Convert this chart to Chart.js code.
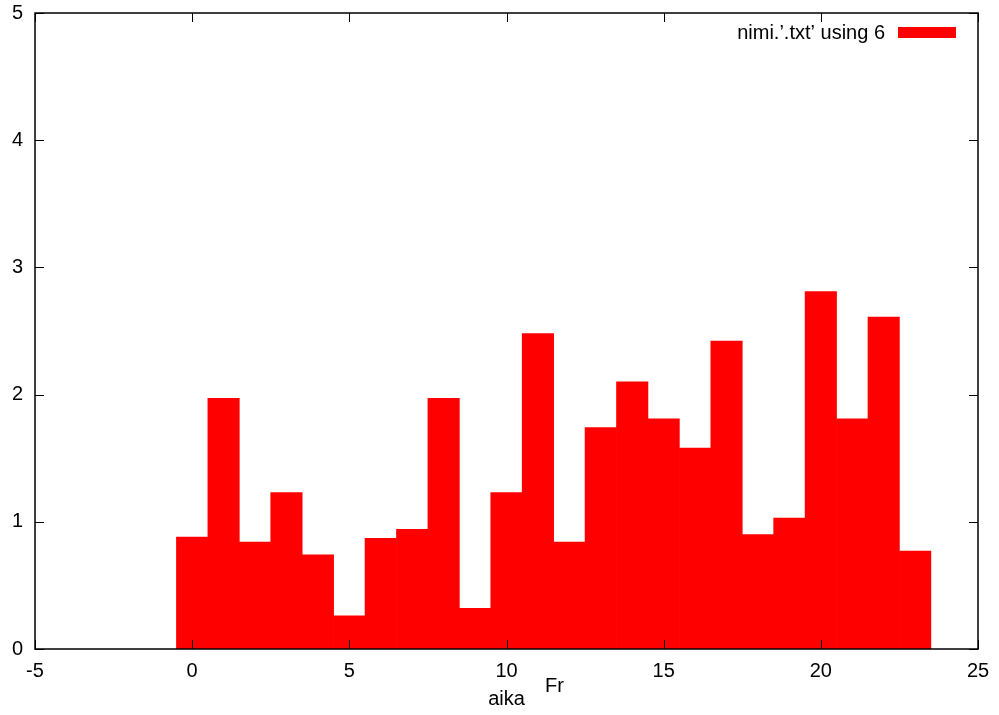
<!DOCTYPE html>
<html>
<head>
<meta charset="utf-8">
<script src="https://cdn.jsdelivr.net/npm/chart.js@4"></script>
<style>
  html, body { margin: 0; padding: 0; background: #fff; }
  #wrap { width: 999px; height: 715px; }
</style>
</head>
<body>
<div id="wrap"><canvas id="histChart" width="999" height="715"></canvas></div>
<script>
// values (x = bin, y = value)
const bins = [0, 1, 2, 3, 4, 5, 6, 7, 8, 9, 10, 11, 12, 13, 14, 15, 16, 17, 18, 19, 20, 21, 22, 23];
const values = [0.88, 1.97, 0.84, 1.23, 0.74, 0.26, 0.87, 0.94, 1.97, 0.32, 1.23, 2.48,
                0.84, 1.74, 2.10, 1.81, 1.58, 2.42, 0.90, 1.03, 2.81, 1.81, 2.61, 0.77];
const seriesLabel = "nimi.\u2019.txt\u2019 using 6";
const xTitle = 'aika';
const extraLabel = 'Fr';
const xRange = [-5, 25];
const yRange = [0, 5];

const FONT = "'Liberation Sans', Arial, sans-serif";

// gnuplot-like frame: border, inward ticks on all sides, key, extra label
const frame = {
  id: 'frame',
  afterDatasetsDraw(chart) {
    const { ctx, chartArea: a, scales } = chart;
    const tl = 9;
    ctx.save();
    ctx.strokeStyle = '#000';
    ctx.lineWidth = 1;
    ctx.beginPath();
    scales.x.ticks.forEach(t => {
      const px = Math.round(scales.x.getPixelForValue(t.value)) + 0.5;
      ctx.moveTo(px, a.bottom); ctx.lineTo(px, a.bottom - tl);
      ctx.moveTo(px, a.top); ctx.lineTo(px, a.top + tl);
    });
    scales.y.ticks.forEach(t => {
      const py = Math.round(scales.y.getPixelForValue(t.value)) + 0.5;
      ctx.moveTo(a.left, py); ctx.lineTo(a.left + tl, py);
      ctx.moveTo(a.right, py); ctx.lineTo(a.right - tl, py);
    });
    ctx.stroke();
    ctx.lineWidth = 1.5;
    ctx.strokeRect(a.left, a.top, a.right - a.left, a.bottom - a.top);

    // key
    ctx.font = '20px ' + FONT;
    ctx.fillStyle = '#000';
    ctx.textAlign = 'right';
    ctx.textBaseline = 'middle';
    ctx.fillText(seriesLabel, a.right - 93, a.top + 20);
    ctx.fillStyle = '#ff0000';
    ctx.fillRect(a.right - 80, a.top + 14, 58, 11);

    // extra label
    ctx.fillStyle = '#000';
    ctx.textAlign = 'left';
    ctx.fillText(extraLabel, 545, 686);
    ctx.restore();
  }
};

new Chart(document.getElementById('histChart'), {
  type: 'bar',
  data: {
    datasets: [{
      label: seriesLabel,
      data: bins.map((b, i) => ({ x: b, y: values[i] })),
      backgroundColor: '#ff0000',
      borderWidth: 0,
      barPercentage: 1,
      categoryPercentage: 1
    }]
  },
  options: {
    responsive: false,
    animation: false,
    layout: { padding: { top: 13, right: 21, left: 0, bottom: 0 } },
    plugins: { legend: { display: false }, tooltip: { enabled: false } },
    scales: {
      x: {
        type: 'linear',
        min: xRange[0], max: xRange[1],
        offset: false,
        grid: { display: false, drawTicks: false },
        border: { display: false },
        ticks: { stepSize: 5, color: '#000', font: { family: FONT, size: 20 }, padding: 10, maxRotation: 0 },
        title: { display: true, text: xTitle, color: '#000', font: { family: FONT, size: 20 }, padding: { top: 0, bottom: 4 } },
        afterFit(s) { s.height = 66; s.paddingLeft = 0; s.paddingRight = 0; }
      },
      y: {
        min: yRange[0], max: yRange[1],
        grid: { display: false, drawTicks: false },
        border: { display: false },
        ticks: { stepSize: 1, color: '#000', font: { family: FONT, size: 20 }, padding: 12 },
        afterFit(s) { s.width = 35; s.paddingTop = 0; s.paddingBottom = 0; }
      }
    }
  },
  plugins: [frame]
});
</script>
</body>
</html>
